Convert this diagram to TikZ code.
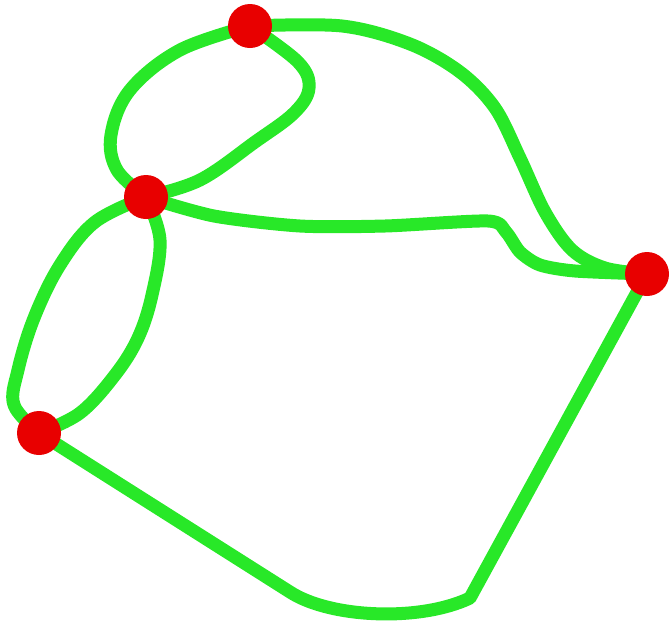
\documentclass[tikz,border=0pt]{standalone}
\usetikzlibrary{backgrounds}
\definecolor{edgegreen}{RGB}{40,232,40}
\definecolor{vred}{RGB}{232,0,0}
\tikzset{
  vertex/.style={circle,fill=vred,draw=none,minimum size=44pt,inner sep=0pt},
  edge/.style={draw=edgegreen,line width=13pt,line cap=round,line join=round},
}
\begin{document}
\begin{tikzpicture}[x=1pt,y=-1pt]
\useasboundingbox (0,0) rectangle (671,635);
\node[vertex] (A) at (250,26) {};
\node[vertex] (B) at (146,197) {};
\node[vertex] (C) at (647,274) {};
\node[vertex] (D) at (39,433) {};
\begin{pgfonlayer}{background}
\draw[edge] plot[smooth,tension=0.6] coordinates {(A.center) (180,50) (130,90) (111,135) (117,170) (B.center)};
\draw[edge] plot[smooth,tension=0.6] coordinates {(A.center) (298,62) (309,88) (294,113) (255,142) (200,180) (B.center)};
\draw[edge] plot[smooth,tension=0.55] coordinates {(A.center) (342,26) (410,44) (460,72) (495,108) (520,158) (545,212) (572,250) (605,268) (C.center)};
\draw[edge] plot[smooth,tension=0.45] coordinates {(B.center) (214,216) (300,226) (385,226) (488,221) (506,232) (520,252) (540,265) (575,271) (C.center)};
\draw[edge] plot[smooth,tension=0.6] coordinates {(B.center) (95,222) (60,265) (34,318) (18,370) (14,405) (D.center)};
\draw[edge] plot[smooth,tension=0.6] coordinates {(B.center) (160,240) (152,295) (138,338) (115,375) (80,413) (D.center)};
\draw[edge] (D.center) -- (290,592) .. controls (330,618) and (420,622) .. (470,598) -- (C.center);
\end{pgfonlayer}
\end{tikzpicture}
\end{document}
